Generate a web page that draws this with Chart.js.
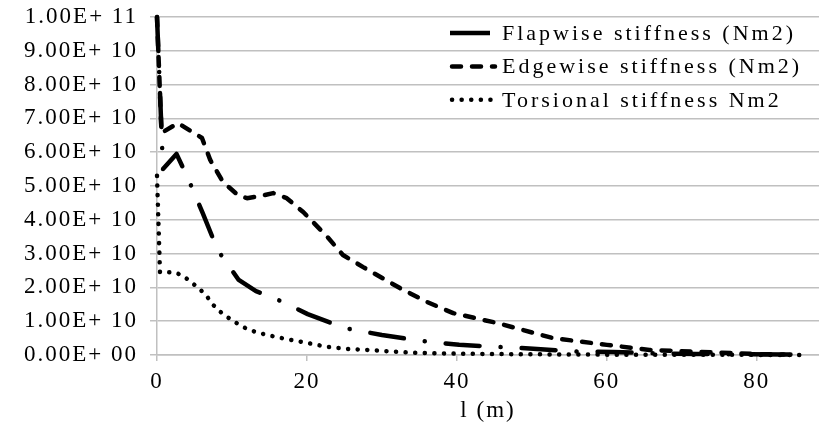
<!DOCTYPE html>
<html>
<head>
<meta charset="utf-8">
<script src="https://cdn.jsdelivr.net/npm/chart.js@4.4.0/dist/chart.umd.min.js"></script>
<style>
  html, body { margin: 0; padding: 0; background: #fff; }
  #wrap { width: 819px; height: 431px; }
</style>
</head>
<body>
<div id="wrap"><canvas id="chart"></canvas></div>
<script>
// Stiffness distribution along the blade span

const seriesLabels = ['Flapwise stiffness (Nm2)', 'Edgewise stiffness (Nm2)', 'Torsional stiffness Nm2'];

// span position l (m) and stiffness (Nm2)
const flapX = [0, 0.8, 2.6, 4.1, 6.1, 8.1, 10.9, 13.2, 15.6, 20.1, 25.0, 30.0, 35.5, 40.3, 45.5, 50.7, 56.0, 60.8, 66.0, 72.0, 78.0, 85.7];
const flapY = [1.0e11, 5.5e10, 5.95e10, 5.24e10, 4.2e10, 3.1e10, 2.22e10, 1.89e10, 1.69e10, 1.21e10, 8.0e9, 5.9e9, 4.1e9, 3.0e9, 2.4e9, 1.8e9, 1.0e9, 9.0e8, 5.0e8, 3.0e8, 2.0e8, 1.0e8];

const edgeX = [0, 0.6, 2.8, 6.0, 7.1, 8.8, 10.8, 12.0, 13.7, 15.5, 17.3, 19.5, 22.7, 24.8, 27.5, 32.4, 36.0, 39.5, 45.3, 52.8, 60.0, 65.7, 72.4, 81.3, 85.7];
const edgeY = [1.0e11, 6.57e10, 6.86e10, 6.42e10, 5.77e10, 5.12e10, 4.73e10, 4.64e10, 4.70e10, 4.79e10, 4.64e10, 4.23e10, 3.5e10, 2.96e10, 2.60e10, 1.98e10, 1.57e10, 1.24e10, 9.5e9, 5.0e9, 3.0e9, 1.5e9, 9.0e8, 2.0e8, 1.0e8];

const torsX = [0, 0.4, 2.3, 3.5, 4.7, 5.7, 6.7, 7.5, 8.5, 9.6, 10.8, 12.0, 13.2, 14.7, 17.3, 20.0, 22.7, 25.5, 28.1, 32.3, 35.0, 40.0, 45.0, 50.0, 60.0, 70.0, 85.7];
const torsY = [5.3e10, 2.45e10, 2.45e10, 2.34e10, 2.13e10, 1.95e10, 1.72e10, 1.48e10, 1.27e10, 1.09e10, 9.2e9, 7.7e9, 6.8e9, 5.9e9, 4.7e9, 3.6e9, 2.4e9, 1.8e9, 1.5e9, 9.0e8, 6.0e8, 4.0e8, 3.0e8, 2.0e8, 1.0e8, 5.0e7, 3.0e7];

const xTicks = [0, 20, 40, 60, 80];
const xTitle = 'l (m)';

const serif = '"Liberation Serif", "Times New Roman", serif';
const gridGray = '#c0c0c0';

// line patterns: dash-dot, dashed, dotted (legend shows flapwise as solid)
const chartDash = [[34, 21, 0.1, 21], [9, 11], [0.1, 9.5]];
const legendDash = [[], [9, 11], [0.1, 9.5]];

function toPoints(xs, ys) {
    return xs.map((x, i) => ({ x: x, y: ys[i] }));
}

function sciLabel(v) {
    const parts = Number(v).toExponential(2).split('e');
    const exp = Math.abs(parseInt(parts[1], 10)).toString().padStart(2, '0');
    return parts[0] + 'E+ ' + exp;
}

// spacing the glyphs a bit wider, the original font is wide
const spacingPlugin = {
    id: 'spacing',
    beforeDraw(chart) {
        chart.ctx.letterSpacing = '2px';
    }
};

// legend sits inside the plot, top right
const legendPlugin = {
    id: 'insideLegend',
    afterDraw(chart) {
        const ctx = chart.ctx;
        ctx.save();
        ctx.font = '22px ' + serif;
        ctx.letterSpacing = '3px';
        ctx.textBaseline = 'middle';
        ctx.textAlign = 'left';
        ctx.fillStyle = '#000';
        chart.data.datasets.forEach((ds, i) => {
            const y = 33 + i * 33.4;
            ctx.beginPath();
            ctx.setLineDash(legendDash[i]);
            ctx.lineWidth = 4.5;
            ctx.lineCap = i === 0 ? 'butt' : 'round';
            ctx.strokeStyle = '#000';
            ctx.moveTo(i === 0 ? 450 : 452, y);
            ctx.lineTo(i === 0 ? 490 : 495, y);
            ctx.stroke();
            ctx.fillText(ds.label, 502, y + 1);
        });
        ctx.restore();
    }
};

const datasets = [
    toPoints(flapX, flapY),
    toPoints(edgeX, edgeY),
    toPoints(torsX, torsY)
].map((pts, i) => ({
    label: seriesLabels[i],
    data: pts,
    borderColor: '#000',
    backgroundColor: '#000',
    borderWidth: 4.5,
    borderDash: chartDash[i],
    borderCapStyle: 'round',
    borderJoinStyle: 'round',
    pointRadius: 0,
    tension: 0,
    fill: false,
    clip: 6
}));

const ctx = document.getElementById('chart').getContext('2d');
new Chart(ctx, {
    type: 'line',
    data: { datasets: datasets },
    options: {
        responsive: true,
        maintainAspectRatio: false,
        animation: false,
        devicePixelRatio: 1,
        layout: { padding: { top: 17, right: 0, bottom: 0, left: 0 } },
        plugins: {
            legend: { display: false },
            tooltip: { enabled: false }
        },
        scales: {
            x: {
                type: 'linear',
                min: 0,
                max: 88.3,
                afterBuildTicks: (scale) => {
                    scale.ticks = xTicks.map(v => ({ value: v }));
                },
                afterFit: (scale) => {
                    scale.height = 76;
                    scale.paddingLeft = 0;
                    scale.paddingRight = 0;
                },
                grid: { drawOnChartArea: false, drawTicks: true, tickLength: 6, color: gridGray, lineWidth: 1.5 },
                border: { color: gridGray, width: 1.5 },
                ticks: {
                    color: '#000',
                    font: { family: serif, size: 23 },
                    padding: 7,
                    maxRotation: 0,
                    autoSkip: false
                },
                title: {
                    display: true,
                    text: xTitle,
                    color: '#000',
                    font: { family: serif, size: 23 },
                    padding: { top: 0, bottom: 6 }
                }
            },
            y: {
                min: 0,
                max: 1.0e11,
                afterFit: (scale) => {
                    scale.width = 157;
                    scale.paddingTop = 0;
                    scale.paddingBottom = 0;
                },
                grid: { color: gridGray, lineWidth: 1.5, drawTicks: true, tickLength: 7 },
                border: { color: gridGray, width: 1.5 },
                ticks: {
                    stepSize: 1.0e10,
                    color: '#000',
                    font: { family: serif, size: 23 },
                    padding: 12,
                    callback: sciLabel
                }
            }
        }
    },
    plugins: [spacingPlugin, legendPlugin]
});
</script>
</body>
</html>
